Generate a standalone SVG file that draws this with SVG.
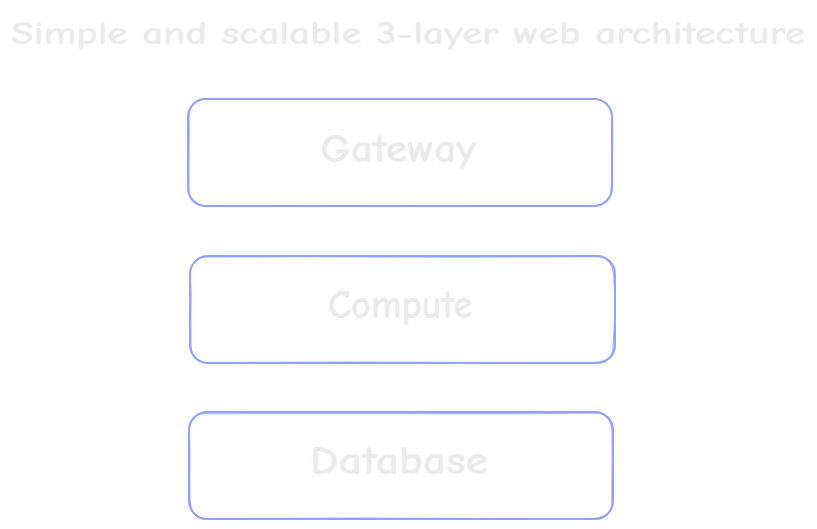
<svg xmlns="http://www.w3.org/2000/svg" width="817" height="529" viewBox="0 0 817 529">
<style>
.box{fill:#ffffff;stroke:#8fa3fb;stroke-width:2;}
.sk{fill:none;stroke:#8fa3fb;stroke-width:1.2;opacity:0.8;}
.lbl{font-family:"Comic Neue","Liberation Sans",sans-serif;font-weight:bold;fill:#ebebeb;text-anchor:middle;}
</style>
<rect width="817" height="529" fill="#ffffff"/>
<text id="title" class="lbl" x="408" y="44" font-size="33" textLength="794" lengthAdjust="spacingAndGlyphs">Simple and scalable 3-layer web architecture</text>
<g id="connectors"></g>
<g id="gateway">
<rect class="box" x="188" y="99" width="424" height="107" rx="18"/>
<path class="sk" d="M205 98.5 C330 100 470 97 598 99.5 C610 101 613 112 612.5 125 C613 150 612 175 611 190 C610 203 600 206 590 205.5 C460 206 330 205 205 206 C192 205 188 198 189 185 C188 160 190 140 189 118 C189 104 195 99 205 98.5"/>
<text class="lbl" x="398" y="162" font-size="40" textLength="156" lengthAdjust="spacingAndGlyphs">Gateway</text>
</g>
<g id="compute">
<rect class="box" x="190" y="256" width="425" height="107" rx="18"/>
<path class="sk" d="M210 257 C330 256 470 258 598 256.5 C611 258 614 268 614 282 C616 305 614 330 613 348 C612 360 604 362 592 362.5 C460 363 330 361 206 363 C194 362 190 354 191 340 C190 315 192 295 190 275 C191 262 198 256 210 257"/>
<text class="lbl" x="400" y="318" font-size="40" textLength="144" lengthAdjust="spacingAndGlyphs">Compute</text>
</g>
<g id="database">
<rect class="box" x="189" y="412" width="424" height="107" rx="18"/>
<path class="sk" d="M210 414 C330 412 470 415 596 413 C609 414 613 424 612 438 C613 460 611 485 612 503 C611 515 603 518 592 518.5 C460 519 330 517 206 519 C194 518 189 510 190 495 C189 470 191 450 189 432 C190 418 197 412 210 414"/>
<text class="lbl" x="399" y="474" font-size="40" textLength="178" lengthAdjust="spacingAndGlyphs">Database</text>
</g>
</svg>
